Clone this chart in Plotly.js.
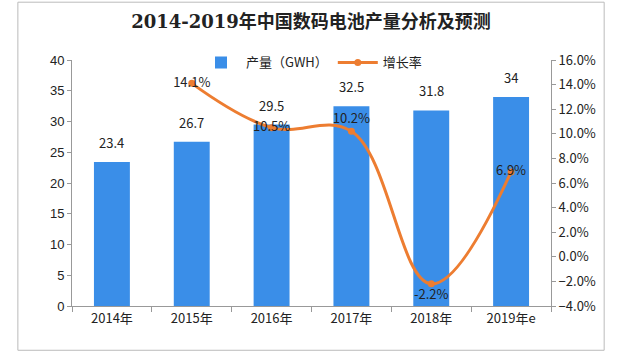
<!DOCTYPE html>
<html><head><meta charset="utf-8">
<script src="https://cdn.plot.ly/plotly-3.0.1.min.js"></script>
<style>body{margin:0;padding:0;background:#fff}#chart{width:622px;height:360px}</style>
</head><body><div id="chart"></div>
<script>
const categories = ['2014年','2015年','2016年','2017年','2018年','2019年e'];
const output = [23.4, 26.7, 29.5, 32.5, 31.8, 34];
const growthCats = ['2015年','2016年','2017年','2018年','2019年e'];
const growth = [14.1, 10.5, 10.2, -2.2, 6.9];
const growthLabelPos = ['middle center','middle center','top center','bottom center','middle center'];

const cjk = '"Noto Sans CJK SC", "Liberation Sans", sans-serif';
const traces = [
  {type:'bar', x:categories, y:output, name:'产量（GWH）', width:0.45,
   marker:{color:'#3A8EE8'}},
  {type:'scatter', mode:'lines+markers+text', x:growthCats, y:growth, yaxis:'y2', name:'增长率',
   line:{color:'#ED7D31',width:3,shape:'spline',smoothing:1.1},
   marker:{color:'#ED7D31',size:7},
   text:growth.map(v=>v.toFixed(1)+'%'), textposition:growthLabelPos, cliponaxis:false,
   textfont:{family:cjk,size:13,color:'#222'}}
];
const barLabels = categories.map((c,i)=>({x:c, y:output[i], xref:'x', yref:'y', text:String(output[i]),
  showarrow:false, yanchor:'bottom', yshift:8, font:{family:cjk,size:13,color:'#222'}}));
const layout = {
  width:622, height:360, paper_bgcolor:'#fff', plot_bgcolor:'rgba(0,0,0,0)',
  margin:{l:72,r:71,t:60,b:54},
  title:{text:'<b>2014-2019年中国数码电池产量分析及预测</b>', x:0.5, xanchor:'center', y:0.94, yanchor:'middle',
         font:{family:'"DejaVu Serif", "Noto Sans CJK SC", serif', size:18, color:'#222'}},
  showlegend:true,
  legend:{orientation:'h', x:0.5, xanchor:'center', y:0.99, yanchor:'middle',
          font:{family:cjk,size:13,color:'#222'}, bgcolor:'rgba(0,0,0,0)', itemwidth:40},
  bargap:0.55,
  annotations:barLabels,
  xaxis:{type:'category', showgrid:false, showline:true, linecolor:'#999', ticks:'outside',
         tickson:'boundaries', ticklen:5, tickcolor:'#999', tickfont:{family:cjk,size:13,color:'#222'}},
  yaxis:{range:[0,40], dtick:5, showgrid:false, showline:true, linecolor:'#999', ticks:'outside',
         ticklen:4, tickcolor:'#999', zeroline:false, tickfont:{family:'"Liberation Sans", Arial, sans-serif',size:13,color:'#222'}},
  yaxis2:{range:[-4,16], dtick:2, overlaying:'y', side:'right', showgrid:false, showline:true,
          linecolor:'#999', ticks:'outside', ticklen:4, tickcolor:'#999', zeroline:false,
          tickformat:'.1f', ticksuffix:'%', tickfont:{family:cjk,size:13,color:'#222'}},
  shapes:[{type:'rect', xref:'paper', yref:'paper', x0:-0.113, x1:1.111, y0:-0.18, y1:1.235,
           line:{color:'#bbb',width:1}}]
};
Plotly.newPlot('chart', traces, layout, {displayModeBar:false, staticPlot:true});
</script></body></html>
